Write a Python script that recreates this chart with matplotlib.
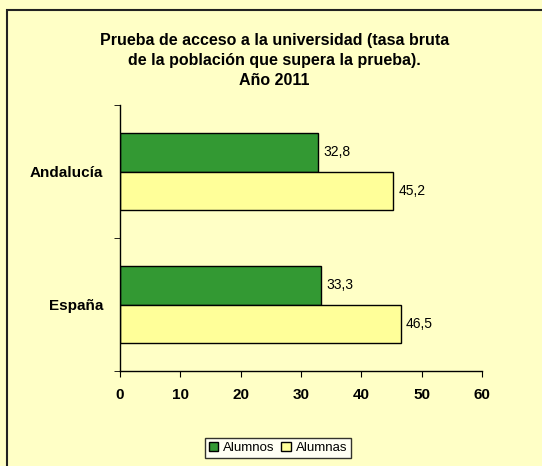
import matplotlib
matplotlib.use("Agg")
import matplotlib.pyplot as plt
from matplotlib.patches import Rectangle
import numpy as np

plt.rcParams['font.family'] = ['Liberation Sans', 'DejaVu Sans']

categories = ["Andalucía", "España"]
alumnos = [32.8, 33.3]
alumnas = [45.2, 46.5]
series_names = ["Alumnos", "Alumnas"]
title = "Prueba de acceso a la universidad (tasa bruta\nde la población que supera la prueba).\nAño 2011"
xticks = [0, 10, 20, 30, 40, 50, 60]

bg = "#FFFFC6"
green = "#339933"
yellow = "#FFFF99"

W, H = 542, 466
fig = plt.figure(figsize=(W / 100, H / 100), dpi=100, facecolor=bg)
fig.patches.append(Rectangle((7 / W, -0.05), 1.1, 1 - 10 / H + 0.05, transform=fig.transFigure,
                             fill=False, edgecolor="#222222", linewidth=1.5))

ax = fig.add_axes([120 / W, 1 - 371 / H, (482 - 120) / W, (371 - 105) / H])
ax.set_facecolor(bg)

y = np.arange(len(categories))
h = 0.286
b1 = ax.barh(y - h / 2, alumnos, height=h, color=green, edgecolor="black", linewidth=1, label=series_names[0])
b2 = ax.barh(y + h / 2, alumnas, height=h, color=yellow, edgecolor="black", linewidth=1, label=series_names[1])

for bars, vals in ((b1, alumnos), (b2, alumnas)):
    for rect, v in zip(bars, vals):
        ax.annotate(f"{v:.1f}".replace(".", ","), (v, rect.get_y() + rect.get_height() / 2),
                    xytext=(4, 0), textcoords="offset points", va="center", ha="left", fontsize=10)

ax.set_xlim(0, 60)
ax.set_ylim(len(categories) - 0.5, -0.5)
ax.set_xticks(xticks)
ax.set_xticklabels([str(t) for t in xticks], fontsize=11, fontweight="bold")
ax.set_yticks(y)
ax.set_yticklabels(categories, fontsize=11, fontweight="bold")
ax.tick_params(axis="y", length=0, pad=12)
ax.set_yticks([-0.5, 0.5, 1.5], minor=True)
ax.tick_params(axis="y", which="minor", length=4, direction="out")
ax.tick_params(axis="x", length=4, direction="out", pad=8)
for s in ("top", "right"):
    ax.spines[s].set_visible(False)
for s in ("left", "bottom"):
    ax.spines[s].set_linewidth(1)

fig.text(0.5 * (7 + W) / W, 1 - 33 / H, title, ha="center", va="top", fontsize=11.5, fontweight="bold",
         linespacing=1.4)

leg = fig.legend(handles=[b1, b2], labels=series_names, loc="center", bbox_to_anchor=(278 / W, 1 - 448 / H),
                 ncol=2, fontsize=9.5, frameon=True, fancybox=False, edgecolor="black",
                 handlelength=0.7, handleheight=0.7, handletextpad=0.4, columnspacing=0.5,
                 borderpad=0.3, borderaxespad=0)
leg.get_frame().set_facecolor("white")
leg.get_frame().set_linewidth(1)

fig.savefig("out.png", dpi=100, facecolor=bg)
